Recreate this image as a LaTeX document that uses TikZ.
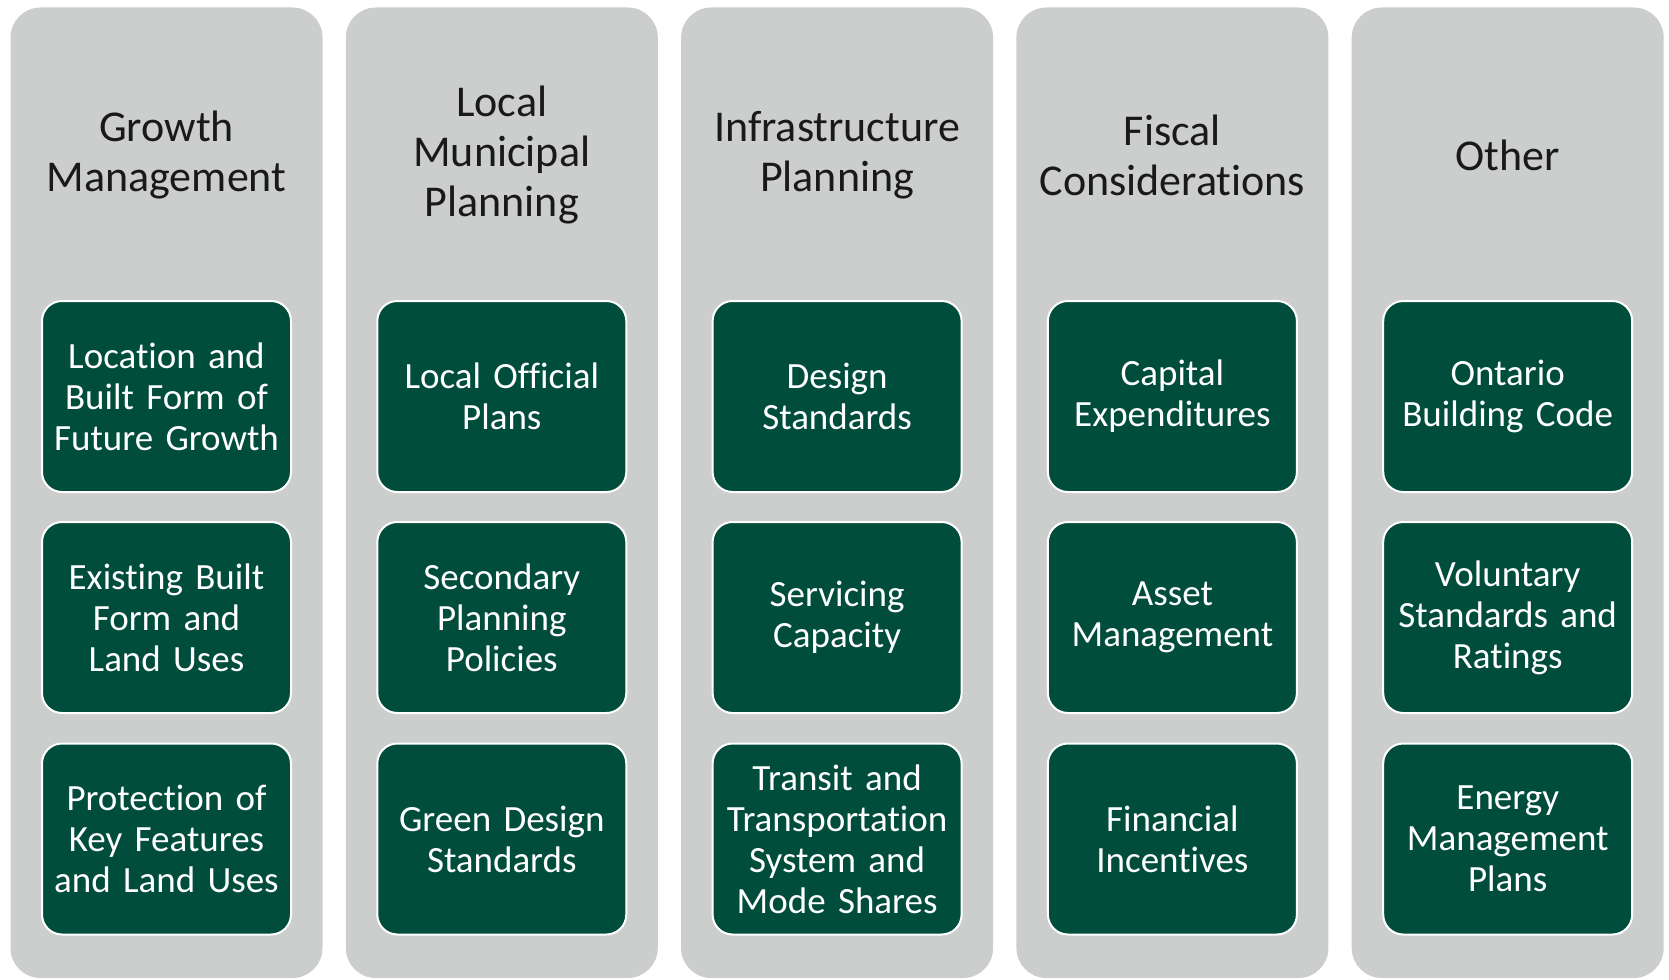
\documentclass[tikz,border=0pt]{standalone}
\usepackage{fontspec}
\setmainfont[RawFeature={-liga;-clig;-dlig;-calt;-hlig}]{Carlito}
\definecolor{colgray}{RGB}{203,206,205}
\definecolor{boxgreen}{RGB}{0,77,59}
\definecolor{headtext}{RGB}{25,25,25}
\tikzset{
  x=1pt, y=-1pt,
  column/.style={fill=colgray, draw=none, rounded corners=30pt},
  header/.style={text=headtext, align=center, font=\fontsize{44}{50}\selectfont, inner sep=0pt},
  item/.style={fill=boxgreen, draw=white, line width=2pt, rounded corners=20pt,
    minimum width=249pt, minimum height=191pt, text width=240pt, align=center,
    text=white, font=\fontsize{37}{41}\selectfont, inner sep=0pt}
}
\begin{document}
\begin{tikzpicture}
\useasboundingbox (0,0) rectangle (1669,979);
\foreach \i in {0,...,4}{
  \pgfmathsetmacro{\cx}{166.5+335.3*\i}
  \fill[column] (\cx-156,7.5) rectangle (\cx+156,978);
}
% headers
\node[header] (h1) at (166.5,155) {Growth\\Management};
\node[header] (h2) at (501.8,155) {Local\\Municipal\\Planning};
\node[header] (h3) at (837.1,155) {Infrastructure\\Planning};
\node[header] (h4) at (1172.4,155) {Fiscal\\Considerat\kern0pt ions};
\node[header] (h5) at (1507.7,155) {Other};
% column 1
\node[item] (a1) at (166.5,396.5) {Location and\\Built Form of\\Future Growth};
\node[item] (a2) at (166.5,617.5) {Existing Built\\Form and\\Land Uses};
\node[item] (a3) at (166.5,839) {Protection of\\Key Features\\and Land Uses};
% column 2
\node[item] (b1) at (501.8,396.5) {Local Official\\Plans};
\node[item] (b2) at (501.8,617.5) {Secondary\\Planning\\Policies};
\node[item] (b3) at (501.8,839) {Green Design\\Standards};
% column 3
\node[item] (c1) at (837.1,396.5) {Design\\Standards};
\node[item] (c2) at (837.1,617.5) {Servicing\\Capacity};
\node[item] (c3) at (837.1,839) {Transit and\\Transportation\\System and\\Mode Shares};
% column 4
\node[item] (d1) at (1172.4,396.5) {Capital\\Expenditures};
\node[item] (d2) at (1172.4,617.5) {Asset\\Management};
\node[item] (d3) at (1172.4,839) {Financial\\Incent\kern0pt ives};
% column 5
\node[item] (e1) at (1507.7,396.5) {Ontario\\Building Code};
\node[item] (e2) at (1507.7,617.5) {Voluntary\\Standards and\\Ratings};
\node[item] (e3) at (1507.7,839) {Energy\\Management\\Plans};
\end{tikzpicture}
\end{document}
